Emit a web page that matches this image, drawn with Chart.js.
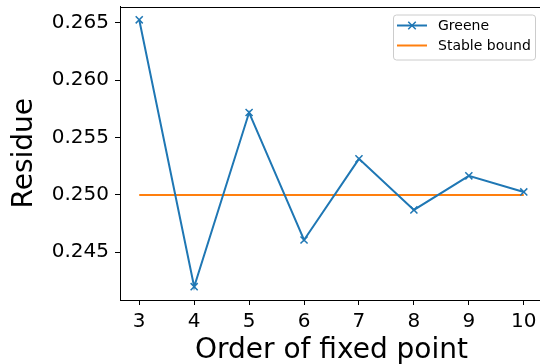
<!DOCTYPE html>
<html>
<head>
<meta charset="utf-8">
<script src="https://cdn.jsdelivr.net/npm/chart.js@4/dist/chart.umd.min.js"></script>
<style>
  html, body { margin: 0; padding: 0; background: #fff; overflow: hidden; width: 540px; height: 364px; }
  #wrap { width: 540px; height: 364px; overflow: hidden; position: relative; }
  canvas { display: block; position: absolute; left: 0; top: 0; }
</style>
</head>
<body>
<div id="wrap"><canvas id="c" width="550" height="364"></canvas></div>
<script>
// Residue of the fixed points by their order
const orders = [3, 4, 5, 6, 7, 8, 9, 10];
const greene = [0.26526, 0.24200, 0.25718, 0.24607, 0.25314, 0.24869, 0.25166, 0.25026];
const stableBound = [0.25, 0.25];
const stableOrders = [3, 10];
const xTicks = [3, 4, 5, 6, 7, 8, 9, 10];
const yTicks = [0.245, 0.250, 0.255, 0.260, 0.265];

const BLUE = '#1f77b4';
const ORANGE = '#ff7f0e';
const FONT = "'DejaVu Sans', sans-serif";

// Axes frame: top edge of the plot box
const framePlugin = {
  id: 'frame',
  afterDraw(chart) {
    const { ctx, chartArea: a } = chart;
    ctx.save();
    ctx.strokeStyle = '#000';
    ctx.lineWidth = 1;
    ctx.beginPath();
    ctx.moveTo(a.left, Math.round(a.top) + 0.5);
    ctx.lineTo(a.right, Math.round(a.top) + 0.5);
    ctx.stroke();
    ctx.restore();
  }
};

// Legend box in the upper right corner of the plot
const boxLegend = {
  id: 'boxLegend',
  afterDraw(chart) {
    const { ctx, chartArea: a } = chart;
    const w = 142, h = 45;
    const x0 = a.right - 8 - w, y0 = a.top + 8;
    ctx.save();
    ctx.beginPath();
    ctx.roundRect(x0 + 0.5, y0 + 0.5, w, h, 3);
    ctx.fillStyle = 'rgba(255,255,255,0.8)';
    ctx.fill();
    ctx.strokeStyle = '#cccccc';
    ctx.lineWidth = 1;
    ctx.stroke();
    ctx.font = '14px ' + FONT;
    ctx.textBaseline = 'middle';
    chart.data.datasets.forEach((ds, i) => {
      const y = y0 + 11 + i * 20;
      const hx0 = x0 + 4, hx1 = x0 + 34;
      ctx.strokeStyle = ds.borderColor;
      ctx.lineWidth = ds.borderWidth;
      ctx.beginPath();
      ctx.moveTo(hx0, y);
      ctx.lineTo(hx1, y);
      ctx.stroke();
      if (ds.pointRadius > 0) {
        const r = ds.pointRadius * 0.75, cx = (hx0 + hx1) / 2;
        ctx.lineWidth = ds.pointBorderWidth;
        ctx.beginPath();
        ctx.moveTo(cx - r, y - r); ctx.lineTo(cx + r, y + r);
        ctx.moveTo(cx - r, y + r); ctx.lineTo(cx + r, y - r);
        ctx.stroke();
      }
      ctx.fillStyle = '#000';
      ctx.fillText(ds.label, x0 + 45, y + 1);
    });
    ctx.restore();
  }
};

new Chart(document.getElementById('c'), {
  type: 'line',
  data: {
    datasets: [
      {
        label: 'Greene',
        data: orders.map((o, i) => ({ x: o, y: greene[i] })),
        borderColor: BLUE,
        backgroundColor: BLUE,
        borderWidth: 2,
        pointStyle: 'crossRot',
        pointRadius: 5,
        pointBorderWidth: 1.5,
        pointBorderColor: BLUE,
        tension: 0,
        fill: false
      },
      {
        label: 'Stable bound',
        data: stableOrders.map((o, i) => ({ x: o, y: stableBound[i] })),
        borderColor: ORANGE,
        backgroundColor: ORANGE,
        borderWidth: 2,
        pointRadius: 0,
        tension: 0,
        fill: false
      }
    ]
  },
  options: {
    responsive: false,
    animation: false,
    devicePixelRatio: 1,
    layout: { padding: { left: 0, right: 7, top: 6, bottom: 0 } },
    plugins: { legend: { display: false }, tooltip: { enabled: false } },
    scales: {
      x: {
        type: 'linear',
        min: 2.65,
        max: 10.35,
        afterBuildTicks(s) { s.ticks = xTicks.map(v => ({ value: v })); },
        afterFit(s) { s.height = 64; s.paddingLeft = 0; s.paddingRight = 0; },
        grid: { drawOnChartArea: false, drawTicks: true, tickLength: 5, color: '#000', tickWidth: 1 },
        border: { display: true, color: '#000', width: 1 },
        ticks: {
          color: '#000',
          font: { family: FONT, size: 20 },
          padding: 5,
          maxRotation: 0,
          autoSkip: false,
          callback: v => String(v)
        },
        title: {
          display: true,
          text: 'Order of fixed point',
          color: '#000',
          font: { family: FONT, size: 28, lineHeight: 1 },
          padding: { top: 0, bottom: -1 }
        }
      },
      y: {
        type: 'linear',
        min: 0.24084,
        max: 0.26642,
        afterBuildTicks(s) { s.ticks = yTicks.map(v => ({ value: v })); },
        afterFit(s) { s.width = 120; s.paddingTop = 0; s.paddingBottom = 0; },
        grid: { drawOnChartArea: false, drawTicks: true, tickLength: 5, color: '#000', tickWidth: 1 },
        border: { display: true, color: '#000', width: 1 },
        ticks: {
          color: '#000',
          font: { family: FONT, size: 20 },
          padding: 6,
          autoSkip: false,
          callback: v => v.toFixed(3)
        },
        title: {
          display: true,
          text: 'Residue',
          color: '#000',
          font: { family: FONT, size: 28, lineHeight: 1 },
          padding: { top: 11, bottom: 0 }
        }
      }
    }
  },
  plugins: [framePlugin, boxLegend]
});
</script>
</body>
</html>
